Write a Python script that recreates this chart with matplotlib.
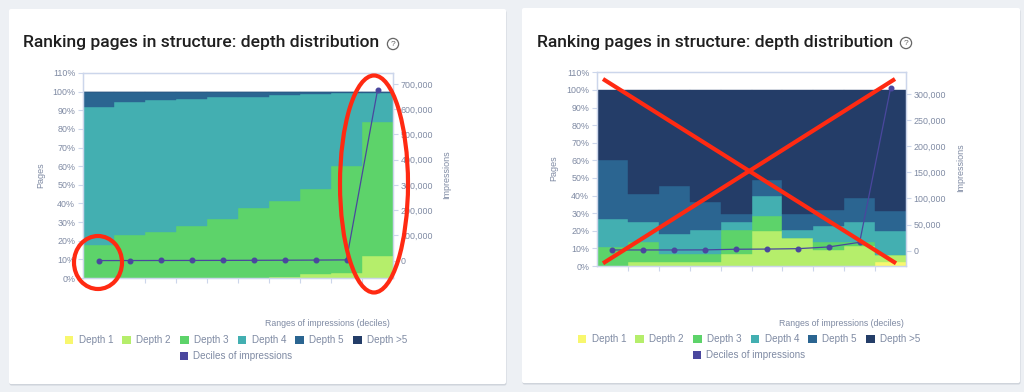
import numpy as np
import matplotlib
matplotlib.use("Agg")
import matplotlib.pyplot as plt
from matplotlib.patches import FancyBboxPatch, Ellipse, Circle, Patch

plt.rcParams['font.family'] = ['Liberation Sans', 'DejaVu Sans']

# ---------------- data ----------------
deciles = list(range(1, 11))
series_names = ["Depth 1", "Depth 2", "Depth 3", "Depth 4", "Depth 5", "Depth >5"]
line_name = "Deciles of impressions"
title_text = "Ranking pages in structure: depth distribution"
x_title = "Ranges of impressions (deciles)"
y_left_title = "Pages"
y_right_title = "Impressions"

# left chart (share of pages, %)
good_depth1 = [0, 0, 0, 0, 0, 0, 0, 0, 0, 0]
good_depth2 = [0, 0, 0, 0, 0, 0, 0.7, 2.0, 2.8, 11.8]
good_depth3 = [17.6, 22.9, 24.7, 28.1, 31.4, 37.6, 40.7, 45.5, 57.2, 72.1]
good_depth4 = [74.2, 71.4, 70.8, 68.0, 65.7, 59.4, 56.8, 51.1, 39.1, 15.6]
good_depth5 = [8.0, 5.5, 4.3, 3.7, 2.7, 2.8, 1.6, 1.2, 0.7, 0.3]
good_depth6 = [0.2, 0.2, 0.2, 0.2, 0.2, 0.2, 0.2, 0.2, 0.2, 0.2]
good_impressions = [300, 500, 700, 900, 1100, 1400, 1800, 2300, 3000, 675000]
good_imp_ticks = [0, 100000, 200000, 300000, 400000, 500000, 600000, 700000]

# right chart (share of pages, %)
bad_depth1 = [0, 0, 0, 0, 0, 0, 0, 0, 0, 2.1]
bad_depth2 = [0, 2.3, 2.3, 2.3, 6.8, 19.9, 15.7, 9.1, 11.4, 4.4]
bad_depth3 = [11.0, 11.4, 4.5, 4.5, 13.7, 8.7, 0, 4.7, 2.3, 0]
bad_depth4 = [15.8, 11.3, 11.4, 13.7, 4.5, 11.2, 4.8, 9.0, 11.3, 13.4]
bad_depth5 = [33.2, 16.0, 27.3, 15.7, 4.6, 9.2, 9.1, 9.1, 13.7, 11.4]
bad_depth6 = [40.0, 59.0, 54.5, 63.8, 70.4, 51.0, 70.4, 68.1, 61.3, 68.7]
bad_impressions = [1300, 1300, 1300, 1500, 2700, 3000, 3800, 7100, 16000, 311000]
bad_imp_ticks = [0, 50000, 100000, 150000, 200000, 250000, 300000]

pct_ticks = [0, 10, 20, 30, 40, 50, 60, 70, 80, 90, 100, 110]

colors = ['#f8f76e', '#b5ee6b', '#5dd36a', '#43afb1', '#2b6591', '#243d68']
line_color = '#4a479e'
axis_col = '#ccd6eb'
label_col = '#7f8aa3'

W, H = 1024, 392
fig = plt.figure(figsize=(W / 100, H / 100), dpi=100)
fig.patch.set_facecolor('#edf0f4')


def Y(y):
    return H - y


# background cards
bg = fig.add_axes([0, 0, 1, 1], zorder=0)
bg.set_xlim(0, W)
bg.set_ylim(0, H)
bg.axis('off')
for (x0, y0, x1, y1) in [(9, 9, 506, 384), (522, 8, 1020, 383)]:
    bg.add_patch(FancyBboxPatch((x0 + 0.5, Y(y1) - 1.5), x1 - x0, y1 - y0,
                                boxstyle="round,pad=0,rounding_size=2",
                                fc='#cfd4db', ec='none'))
    bg.add_patch(FancyBboxPatch((x0, Y(y1)), x1 - x0, y1 - y0,
                                boxstyle="round,pad=0,rounding_size=2",
                                fc='white', ec='none'))


def draw_card(cfg):
    L, R, T, B = cfg['plot']
    ax = fig.add_axes([L / W, Y(B) / H, (R - L) / W, (B - T) / H], zorder=2)
    x = np.arange(len(deciles))
    bottom = np.zeros(len(deciles))
    for vals, c in zip(cfg['depths'], colors):
        v = np.array(vals, dtype=float)
        ax.bar(x, v, width=1.0, bottom=bottom, color=c, edgecolor=c,
               linewidth=0.3, zorder=2)
        bottom += v
    ax.set_xlim(-0.5, len(deciles) - 0.5)
    ax.set_ylim(0, 110)
    ax.set_xticks(np.arange(0.5, len(deciles) - 1, 1.0))
    ax.set_xticklabels([])
    ax.set_yticks(pct_ticks)
    ax.set_yticklabels([f"{v}%" for v in pct_ticks])
    ax.tick_params(axis='both', length=3.6, width=0.8, color=axis_col,
                   labelsize=6.4, labelcolor=label_col, pad=2)
    for s in ax.spines.values():
        s.set_color(axis_col)
        s.set_linewidth(0.9)
    ax.set_facecolor('white')

    ax2 = ax.twinx()
    ax2.set_zorder(3)
    ax2.plot(x, cfg['imps'], color=line_color, lw=0.9, marker='o',
             ms=3.3, mfc=line_color, mec=line_color, zorder=4)
    ax2.set_ylim(*cfg['implim'])
    ax2.set_yticks(cfg['impticks'])
    ax2.set_yticklabels([f"{v:,}" for v in cfg['impticks']])
    ax2.tick_params(axis='y', length=3.6, width=0.8, color=axis_col,
                    labelsize=6.4, labelcolor=label_col, pad=2)
    for s in ax2.spines.values():
        s.set_color(axis_col)
        s.set_linewidth(0.9)

    tx, ty = cfg['title']
    fig.text(tx / W, Y(ty) / H, title_text, ha='left', va='center',
             family=['Roboto', 'DejaVu Sans'], fontweight='medium',
             fontsize=12.6, color='#1f1f1f')
    qx, qy = cfg['q']
    bg.add_patch(Circle((qx, Y(qy)), 5.6, fill=False, ec='#666666', lw=0.9))
    bg.text(qx, Y(qy) - 0.3, '?', ha='center', va='center', fontsize=6,
            color='#666666')

    xl = cfg['xlab']
    fig.text(xl[0] / W, Y(xl[1]) / H, x_title, ha='center', va='center',
             fontsize=6.3, color=label_col)
    pl = cfg['pages']
    fig.text(pl[0] / W, Y(pl[1]) / H, y_left_title, ha='center', va='center',
             rotation=90, fontsize=6.5, color=label_col)
    il = cfg['impl']
    fig.text(il[0] / W, Y(il[1]) / H, y_right_title, ha='center', va='center',
             rotation=90, fontsize=6.5, color=label_col)

    handles = [Patch(fc=c, ec='none') for c in colors]
    lx, ly1, ly2 = cfg['legend']
    kw = dict(frameon=False, fontsize=7.1, handlelength=0.85, handleheight=0.85,
              handletextpad=0.55, columnspacing=0.95, labelcolor=label_col,
              loc='center', borderaxespad=0, borderpad=0)
    fig.legend(handles, series_names, ncol=6,
               bbox_to_anchor=(lx / W, Y(ly1) / H), **kw)
    fig.legend([Patch(fc=line_color, ec='none')], [line_name], ncol=1,
               bbox_to_anchor=(lx / W, Y(ly2) / H), **kw)


cards = [
    dict(plot=(83, 393, 73, 278),
         depths=[good_depth1, good_depth2, good_depth3, good_depth4,
                 good_depth5, good_depth6],
         imps=good_impressions, implim=(-68700, 743700),
         impticks=good_imp_ticks, title=(23, 43), q=(393, 44),
         xlab=(327, 324), pages=(41, 175), impl=(447, 175),
         legend=(236, 340, 356)),
    dict(plot=(597, 906, 72.3, 266),
         depths=[bad_depth1, bad_depth2, bad_depth3, bad_depth4,
                 bad_depth5, bad_depth6],
         imps=bad_impressions, implim=(-29400, 341600),
         impticks=bad_imp_ticks, title=(537, 42), q=(906, 43),
         xlab=(841, 324), pages=(554, 168), impl=(961, 168),
         legend=(749, 339, 355)),
]
for cfg in cards:
    draw_card(cfg)

# red annotations on top
fg = fig.add_axes([0, 0, 1, 1], zorder=10)
fg.set_xlim(0, W)
fg.set_ylim(0, H)
fg.axis('off')
fg.patch.set_alpha(0)
red = '#ff2a12'
fg.add_patch(Ellipse((98, Y(262.5)), 48, 53, fill=False, ec=red, lw=3.0))
fg.add_patch(Ellipse((374, Y(184)), 68, 217, fill=False, ec=red, lw=3.0))
fg.plot([603, 896], [Y(79), Y(263.3)], color=red, lw=3.0, solid_capstyle='butt')
fg.plot([603, 895], [Y(263.3), Y(79)], color=red, lw=3.0, solid_capstyle='butt')

fig.savefig('out.png', dpi=100, facecolor=fig.get_facecolor())
